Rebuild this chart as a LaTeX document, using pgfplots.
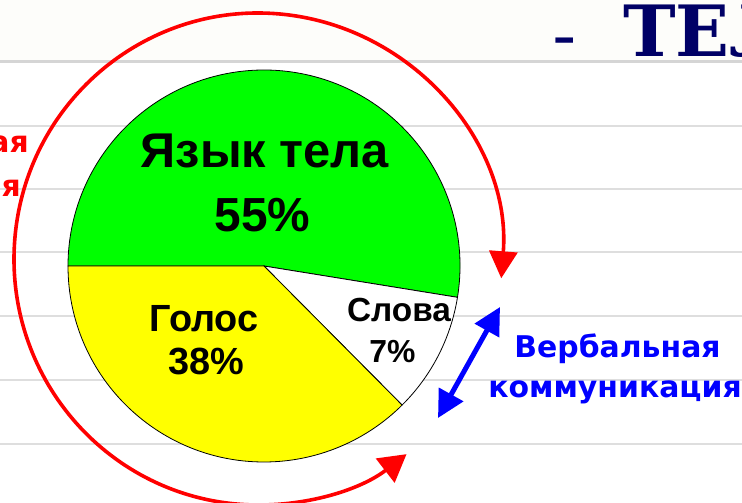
\documentclass[border=0pt]{standalone}
\usepackage{pgfplots}
\pgfplotsset{compat=1.18}
\usepackage{fontspec}
\usetikzlibrary{arrows.meta}
\newfontfamily\lsans{Liberation Sans}
\newfontfamily\dsans{DejaVu Sans}
\newfontfamily\dserif{DejaVu Serif}
\definecolor{navy}{RGB}{0,0,102}
\definecolor{pgreen}{RGB}{0,255,0}
\definecolor{pyellow}{RGB}{255,255,0}
\definecolor{rline}{RGB}{222,222,222}
% slice boundaries (degrees) as drawn in the picture
\def\cx{264}\def\cy{237}
\begin{document}
\begin{tikzpicture}
\begin{axis}[name=ax, scale only axis, width=742bp, height=503bp,
  xmin=0, xmax=742, ymin=0, ymax=503, hide axis, clip=true]
% background
\addplot[draw=none, fill=white] coordinates {(0,0)(742,0)(742,503)(0,503)} -- cycle;
\addplot[draw=none, fill={rgb,255:red,253;green,253;blue,250}] coordinates {(0,441)(742,441)(742,503)(0,503)} -- cycle;
\addplot[rline!90!gray, line width=3bp] coordinates {(0,441)(742,441)};
\addplot[rline, line width=2bp] coordinates {(0,377)(742,377)};
\addplot[rline, line width=2bp] coordinates {(0,314)(742,314)};
\addplot[rline, line width=2bp] coordinates {(0,251)(742,251)};
\addplot[rline, line width=2bp] coordinates {(0,187)(742,187)};
\addplot[rline, line width=2bp] coordinates {(0,123)(742,123)};
\addplot[rline, line width=2bp] coordinates {(0,59)(742,59)};
% pie: Язык тела 55, Слова 7, Голос 38
\filldraw[fill=pgreen, draw=black, line width=0.8bp] (axis cs:\cx,\cy) -- ++(-9.2:196bp) arc[start angle=-9.2, end angle=180, radius=196bp] -- cycle;
\filldraw[fill=white, draw=black, line width=0.8bp] (axis cs:\cx,\cy) -- ++(-45.2:196bp) arc[start angle=-45.2, end angle=-9.2, radius=196bp] -- cycle;
\filldraw[fill=pyellow, draw=black, line width=0.8bp] (axis cs:\cx,\cy) -- ++(180:196bp) arc[start angle=180, end angle=314.8, radius=196bp] -- cycle;
% labels
\node[anchor=base, inner sep=0pt] at (axis cs:265,335) {\lsans\bfseries\fontsize{49}{52}\selectfont Язык тела};
\node[anchor=base, inner sep=0pt] at (axis cs:262.5,271) {\lsans\bfseries\fontsize{48}{50}\selectfont 55\%};
\node[anchor=base, inner sep=0pt] at (axis cs:204,171) {\lsans\bfseries\fontsize{38}{40}\selectfont Голос};
\node[anchor=base, inner sep=0pt] at (axis cs:206,128) {\lsans\bfseries\fontsize{38}{40}\selectfont 38\%};
\node[anchor=base, inner sep=0pt] at (axis cs:399,181) {\lsans\bfseries\fontsize{33.5}{35}\selectfont Слова};
\node[anchor=base, inner sep=0pt] at (axis cs:392.5,140) {\lsans\bfseries\fontsize{32}{34}\selectfont 7\%};
% red circular arrow
\draw[red, line width=3.6bp, {Triangle[length=27bp,width=28bp]}-{Triangle[length=27bp,width=30bp]}]
  (axis cs:258,244) ++(-4.5:244bp and 246bp) arc[start angle=-4.5, end angle=307.5, x radius=244bp, y radius=246bp];
% blue arrow
\draw[blue, line width=5bp, {Triangle[length=27bp,width=27bp]}-{Triangle[length=27bp,width=27bp]}]
  (axis cs:438,85) -- (axis cs:500,196);
% side texts
\node[anchor=base, inner sep=0pt, blue] at (axis cs:617.5,145) {\dsans\bfseries\fontsize{30}{32}\selectfont Вербальная};
\node[anchor=base, inner sep=0pt, blue] at (axis cs:615,105) {\dsans\bfseries\fontsize{30}{32}\selectfont коммуникация};
\node[anchor=base east, inner sep=0pt, red] at (axis cs:29,350) {\dsans\bfseries\fontsize{30}{32}\selectfont Невербальная};
\node[anchor=base east, inner sep=0pt, red] at (axis cs:21,306) {\dsans\bfseries\fontsize{30}{32}\selectfont коммуникация};
% title
\node[anchor=base west, inner sep=0pt, navy] at (axis cs:553,450) {\dserif\bfseries\fontsize{45}{48}\selectfont –};
\node[anchor=base west, inner sep=0pt, navy] at (axis cs:623,446) {\dserif\bfseries\fontsize{71}{74}\selectfont ТЕЛО};
\end{axis}
\pgfresetboundingbox
\path (ax.south west) rectangle (ax.north east);
\end{tikzpicture}
\end{document}
